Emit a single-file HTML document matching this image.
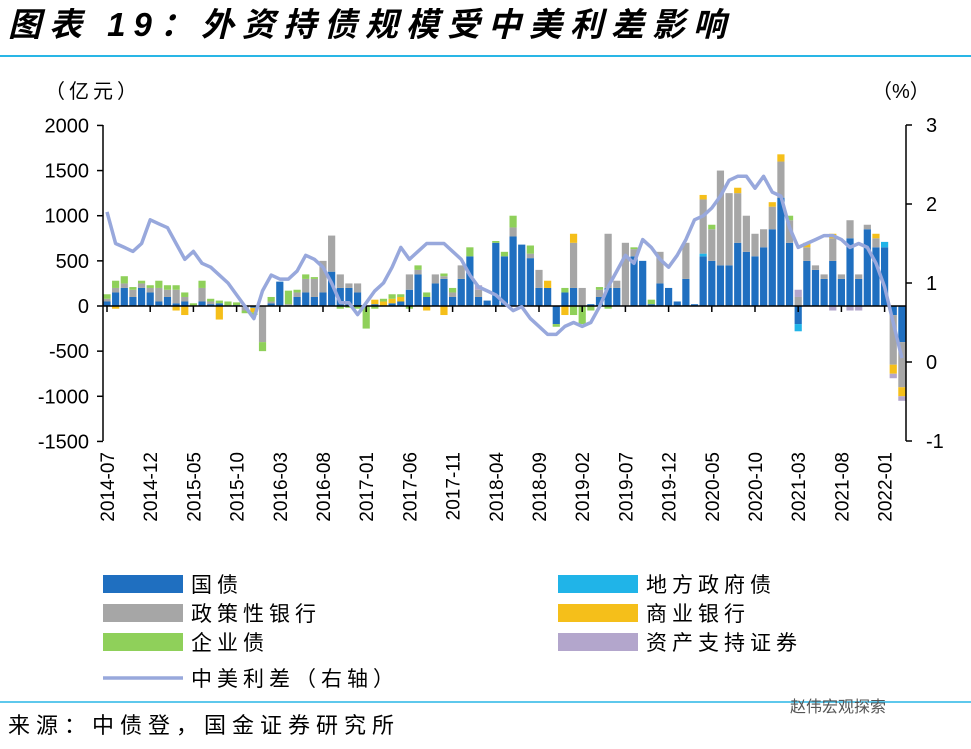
<!DOCTYPE html>
<html><head><meta charset="utf-8"><style>
body{margin:0;background:#fff;width:971px;height:744px;overflow:hidden;font-family:"Liberation Sans","Noto Sans CJK SC",sans-serif}
text{font-family:"Liberation Sans","Noto Sans CJK SC",sans-serif}
</style></head><body>
<svg id="c" width="971" height="744">
<text x="8" y="36" font-size="33" font-weight="bold" font-style="italic" letter-spacing="8">图表 19：外资持债规模受中美利差影响</text>
<line x1="0" y1="56" x2="971" y2="56" stroke="#29b6e6" stroke-width="2"/>
<text x="45" y="98" font-size="20" letter-spacing="4">（亿元）</text>
<text x="872" y="98" font-size="20">（%）</text>
<g id="plot"></g>
<g id="legend"></g>
<line x1="0" y1="702" x2="971" y2="702" stroke="#29b6e6" stroke-width="1.5"/>
<text x="8" y="733" font-size="22" letter-spacing="6">来源：中债登，国金证券研究所</text>
<text x="790" y="712" font-size="16" fill="#555">赵伟宏观探索</text>
</svg>
<script>
const gov=[50,150,200,100,200,150, 50,100,30,50,0,50, 20,30,0,10,0,-20, 0,30,270,0,100,150, 100,150,380,200,200,150, 0,20,0,30,50,180, 350,100,250,300,100,300, 550,100,60,700,550,770, 680,530,200,200,-200,150, 200,0,20,100,200,200, 0,550,500,20,250,200, 50,300,20,550,500,450, 450,700,600,550,650,850, 1200,700,-200,500,400,300, 500,300,750,300,850,650, 650,-100,-400];
const policy=[30,50,50,80,50,50, 150,80,150,50,0,150, 30,0,0,0,-50,0, -400,20,0,20,50,150, 200,350,400,150,50,100, 0,0,0,0,0,170, 50,0,100,30,50,150, 0,80,0,0,0,100, 0,50,200,0,0,0, 500,200,0,80,600,80, 700,80,0,0,350,0, 0,400,0,600,350,1050, 800,550,400,250,200,250, 400,250,100,150,50,50, 250,50,200,50,50,100, 0,-550,-500];
const corp=[50,80,80,30,30,30, 80,50,50,50,30,80, 30,30,50,30,-30,-30, -100,50,0,150,30,50, 20,0,0,-30,-20,-30, -250,-30,30,50,30,-30, 50,50,0,30,50,0, 100,0,0,20,50,130, 0,90,0,0,-30,50, -100,-200,-50,30,-30,0, 0,20,0,50,0,0, 0,0,0,0,50,0, 0,0,0,0,0,0, 0,50,0,0,0,0, 0,0,0,0,0,0, 0,0,0];
const comm=[0,-30,0,0,0,0, 0,0,-50,-100,0,0, 0,-150,0,0,0,-50, 0,0,0,0,0,0, 0,0,0,0,0,0, 0,50,50,50,50,0, 0,-50,0,-100,0,0, 0,0,0,0,0,0, 0,0,0,80,0,-100, 100,0,0,0,0,0, 0,0,0,0,0,0, 0,0,0,50,0,0, 0,60,0,0,0,50, 80,0,0,50,0,0, 50,0,0,0,0,50, 0,-100,-100];
const abs=[0,0,0,0,0,0, 0,0,0,0,0,0, 0,0,0,0,0,0, 0,0,0,0,0,0, 0,0,0,0,0,0, 0,0,0,0,0,0, 0,0,0,0,0,0, 0,50,0,0,0,0, 0,0,0,0,0,0, 0,0,0,0,0,0, 0,0,0,0,0,0, 0,0,0,0,0,0, 0,0,0,0,0,0, 0,0,80,0,0,0, -50,0,-50,-50,0,0, 0,-50,-50];
const local=[0,0,0,0,0,0, 0,0,0,0,0,0, 0,0,0,0,0,0, 0,0,0,0,0,0, 0,0,0,0,0,0, 0,0,0,0,0,0, 0,0,0,0,0,0, 0,0,0,0,0,0, 0,0,0,0,0,0, 0,0,0,0,0,0, 0,0,0,0,0,0, 0,0,0,30,0,0, 0,0,0,0,0,0, 0,0,-80,0,0,0, 0,0,0,0,0,0, 60,0,0];
const spread=[1.9,1.5,1.45,1.4,1.5,1.8, 1.75,1.7,1.5,1.3,1.4,1.25, 1.2,1.1,1.0,0.85,0.7,0.55, 0.9,1.1,1.05,1.05,1.15,1.35, 1.3,1.2,1.0,0.75,0.75,0.6, 0.75,0.9,1.0,1.2,1.45,1.3, 1.4,1.5,1.5,1.5,1.4,1.3, 1.1,0.95,0.9,0.85,0.75,0.65, 0.7,0.55,0.45,0.35,0.35,0.45, 0.5,0.45,0.5,0.7,0.95,1.15, 1.35,1.25,1.55,1.45,1.3,1.2, 1.35,1.55,1.8,1.85,1.95,2.1, 2.3,2.35,2.35,2.2,2.35,2.15, 2.1,1.7,1.45,1.5,1.55,1.6, 1.6,1.55,1.45,1.5,1.45,1.25, 0.95,0.5,0.05];
const leftTicks=[2000,1500,1000,500,0,-500,-1000,-1500];
const rightTicks=[3,2,1,0,-1];
const xLabels=["2014-07","2014-12","2015-05","2015-10","2016-03","2016-08","2017-01","2017-06","2017-11","2018-04","2018-09","2019-02","2019-07","2019-12","2020-05","2020-10","2021-03","2021-08","2022-01"];

const NS="http://www.w3.org/2000/svg";
const X0=107,DX=8.64,L=103,R=906;
const yL=v=>306-v*(316/3500);
const yR=v=>362-v*79;
const xI=i=>X0+i*DX;
const plot=document.getElementById('plot');
function mk(tag,attrs,parent){const e=document.createElementNS(NS,tag);for(const k in attrs)e.setAttribute(k,attrs[k]);(parent||plot).appendChild(e);return e;}

const series=[[gov,'#1f6fc0','bar-gov'],[local,'#20b4e8','bar-local'],[policy,'#a6a6a6','bar-policy'],[comm,'#f5bf1a','bar-commercial'],[corp,'#8fd05a','bar-corporate'],[abs,'#b3a6cc','bar-abs']];
for(let i=0;i<gov.length;i++){
  let pos=0,neg=0;
  for(const [arr,col,nm] of series){
    const v=arr[i]; if(!v) continue;
    let a,b;
    if(v>0){a=pos;b=pos+v;pos=b;}else{a=neg;b=neg+v;neg=b;}
    const r=mk('rect',{x:xI(i)-3.6,y:Math.min(yL(a),yL(b)),width:7.2,height:Math.abs(yL(a)-yL(b)),fill:col});
    
    
  }
}
let ax=mk('line',{x1:L,y1:125,x2:L,y2:441,stroke:'#000','stroke-width':1.5});

ax=mk('line',{x1:R,y1:125,x2:R,y2:441,stroke:'#000','stroke-width':1.5});

ax=mk('line',{x1:L,y1:yL(0),x2:R,y2:yL(0),stroke:'#000','stroke-width':1.5});

for(const t of leftTicks){
  mk('line',{x1:L-6,y1:yL(t),x2:L,y2:yL(t),stroke:'#000','stroke-width':1.5});
  const tx=mk('text',{x:L-14,y:yL(t)+7,'font-size':20,'text-anchor':'end'});tx.textContent=t;
  
}
for(const t of rightTicks){
  mk('line',{x1:R,y1:yR(t),x2:R+6,y2:yR(t),stroke:'#000','stroke-width':1.5});
  const tx=mk('text',{x:R+20,y:yR(t)+7,'font-size':20});tx.textContent=t;
  
}
xLabels.forEach((lab,k)=>{
  const x=xI(k*5);
  mk('line',{x1:x,y1:yL(0),x2:x,y2:yL(0)+6,stroke:'#000','stroke-width':1.5});
  const tx=mk('text',{x:0,y:0,'font-size':19,'text-anchor':'end',transform:`translate(${x+7},452) rotate(-90)`});tx.textContent=lab;
  
});
const pts=spread.map((v,i)=>xI(i).toFixed(1)+','+yR(v).toFixed(1)).join(' ');
const ln=mk('polyline',{points:pts,fill:'none',stroke:'#98a8dc','stroke-width':3.5,'stroke-linejoin':'round'});


const lg=document.getElementById('legend');
const items=[[103,575,'#1f6fc0','国债','legend-gov'],[558,575,'#20b4e8','地方政府债','legend-local'],[103,604,'#a6a6a6','政策性银行','legend-policy'],[558,604,'#f5bf1a','商业银行','legend-commercial'],[103,633,'#8fd05a','企业债','legend-corporate'],[558,633,'#b3a6cc','资产支持证券','legend-abs']];
for(const [x,y,c,t,n] of items){
  const g=mk('g',{},lg);
  
  mk('rect',{x:x,y:y,width:80,height:18,fill:c},g);
  const tx=mk('text',{x:x+88,y:y+17,'font-size':21,'letter-spacing':5},g);tx.textContent=t;
}
const g=mk('g',{},lg);

mk('line',{x1:103,y1:678,x2:183,y2:678,stroke:'#98a8dc','stroke-width':3.5},g);
const tx=mk('text',{x:191,y:686,'font-size':21,'letter-spacing':5},g);tx.textContent='中美利差（右轴）';
</script>
</body></html>
